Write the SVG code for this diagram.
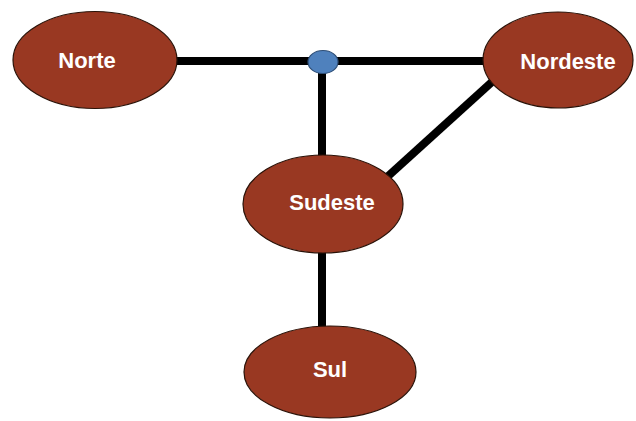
<svg xmlns="http://www.w3.org/2000/svg" width="636" height="421" viewBox="0 0 636 421">
<style>
.node{fill:#993822;stroke:#2a1208;stroke-width:1.2}
.lbl{font-family:"Liberation Sans",Arial,sans-serif;font-weight:bold;font-size:22px;fill:#ffffff;text-anchor:middle}
.edge{stroke:#000;stroke-width:8;fill:none}
</style>
<rect width="636" height="421" fill="#fff"/>
<g id="connectors">
<line class="edge" x1="176" y1="61" x2="485" y2="61"/>
<line class="edge" x1="322" y1="62" x2="322" y2="156"/>
<line class="edge" x1="493" y1="81" x2="386" y2="178"/>
<line class="edge" x1="322" y1="252" x2="322" y2="328"/>
</g>
<g id="junction"><ellipse cx="323" cy="62" rx="15" ry="11.5" fill="#4f81bd" stroke="#2f4f77" stroke-width="1.2"/></g>
<g id="norte"><ellipse class="node" cx="95" cy="60" rx="82" ry="48.5"/><text class="lbl" x="87" y="68">Norte</text></g>
<g id="nordeste"><ellipse class="node" cx="558" cy="60" rx="75" ry="48"/><text class="lbl" x="568" y="69">Nordeste</text></g>
<g id="sudeste"><ellipse class="node" cx="323" cy="204" rx="80" ry="49"/><text class="lbl" x="332" y="210">Sudeste</text></g>
<g id="sul"><ellipse class="node" cx="330" cy="372" rx="86" ry="46"/><text class="lbl" x="330" y="377">Sul</text></g>
</svg>
